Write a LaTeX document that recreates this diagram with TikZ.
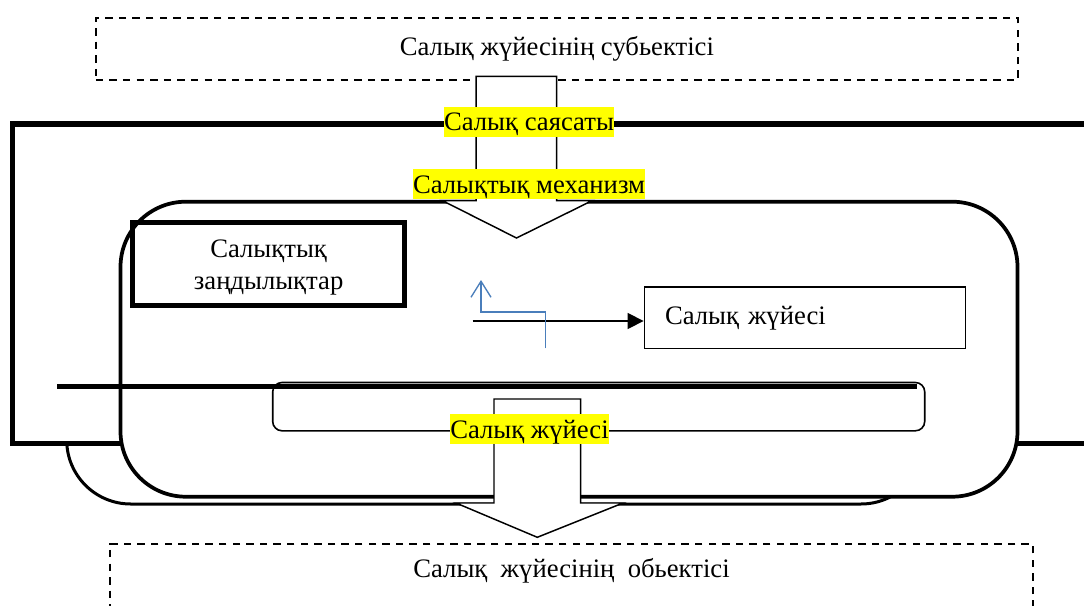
\documentclass[tikz,border=0pt]{standalone}
\usepackage{fontspec}
\setmainfont{Liberation Serif}
\usepackage{tikz}
\usetikzlibrary{arrows.meta}
\definecolor{arrowblue}{RGB}{74,126,187}
\definecolor{markyellow}{RGB}{255,255,0}
\tikzset{
% Node styles: dashed outer boxes, text boxes and highlighted labels
dashed box/.style={draw,dashed,line width=1.4pt,dash pattern=on 5.6pt off 4.6pt,inner sep=0pt},
plain box/.style={draw,line width=1.2pt,inner sep=0pt},
heavy box/.style={draw,line width=3.75pt,inner sep=0pt},
marked label/.style={fill=markyellow,inner sep=0pt,text height=17.8pt,text depth=4.3pt},
block arrow/.style={draw,fill=white,line width=1.1pt,line join=miter}
}

\begin{document}
\begin{tikzpicture}[x=0.75pt,y=-0.75pt,font=\fontsize{20pt}{24pt}\selectfont]
\useasboundingbox (0,0) rectangle (1084,606);
\clip (0,0) rectangle (1084,606);
% Frames, back to front
\draw[line width=2.25pt,rounded corners=48] (66.7,300) rectangle (925,504);
\draw[line width=4.1pt,fill=white] (12.3,123.8) rectangle (1120,443.3);
\draw[line width=2.8pt,fill=white,rounded corners=49] (120.5,201.7) rectangle (1017.5,496.7);
\draw[line width=1.2pt,rounded corners=7] (272.7,382.5) rectangle (924.7,430.8);
\draw[line width=4.1pt] (57.2,386.7) -- (916.7,386.7);
% Subject and object
\node[dashed box,minimum width=691.7pt,minimum height=47pt] (subject) at (556.9,49) {Салық жүйесінің субьектісі};
\node[dashed box,anchor=north,minimum width=691.8pt,text height=25.5pt,text depth=55pt] (object) at (571.5,542.7) {Салық\ \ жүйесінің\ \ обьектісі};
% Block arrows
\draw[block arrow] (476.2,76.3) -- (556.6,76.3) -- (556.6,200.7) -- (592,200.7) -- (516.5,238) -- (442.5,200.7) -- (476.2,200.7) -- cycle;
\draw[block arrow] (494,399) -- (580.7,399) -- (580.7,503) -- (623,503) -- (537.3,537.3) -- (456,503) -- (494,503) -- cycle;
% Highlighted labels
\node[marked label] (policy) at (529,122) {Салық саясаты};
\node[marked label] (mechanism) at (529,184) {Салықтық механизм};
\node[marked label] (sysbottom) at (529.5,429) {Салық жүйесі};
% Inner boxes
\node[heavy box,minimum width=204pt,minimum height=62.9pt,align=center] (laws) at (268.6,264) {\raisebox{-3pt}[\height][\depth]{Салықтық}\\\raisebox{-3pt}[\height][\depth]{заңдылықтар}};
\node[plain box,minimum width=240.9pt,minimum height=46.1pt,inner xsep=15.5pt,text width=209.9pt,align=left] (system) at (805,317.75) {Салық жүйесі};
% Arrows
\coordinate (feed) at (472.7,321);
\draw[line width=1pt,-{Triangle[length=12pt,width=12pt]}] (feed) -- (feed -| system.west);
\coordinate (bluestart) at (545.3,348.3);
\coordinate (blueturn) at (481,312);
\coordinate (blueend) at (481,280);
\draw[arrowblue,line width=1pt,-{Straight Barb[length=12pt,width=15pt]}] (bluestart) |- (blueturn) -- (blueend);
\end{tikzpicture}
\end{document}
